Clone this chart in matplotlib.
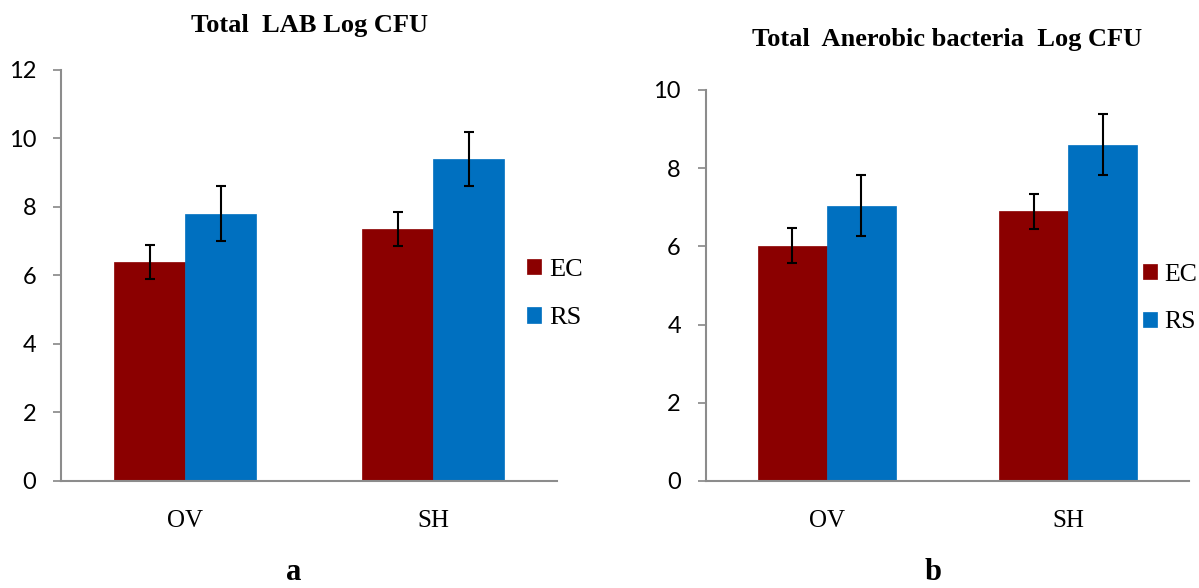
import numpy as np
import matplotlib
matplotlib.use("Agg")
import matplotlib.pyplot as plt

# group labels and series
groups = ["OV", "SH"]
series = ["EC", "RS"]
colors = ["#8B0000", "#0070C0"]

# Total LAB (log CFU)
lab_mean = [[6.4, 7.35], [7.8, 9.4]]
lab_err = [[0.5, 0.5], [0.8, 0.8]]

# Total anaerobic bacteria (log CFU)
ana_mean = [[6.02, 6.9], [7.04, 8.6]]
ana_err = [[0.45, 0.45], [0.78, 0.78]]

serif = "Liberation Serif"
sans = "Lato"


def draw_panel(ax, means, errs, title, ymax, ystep, title_y, leg_anchor, leg_size):
    x = np.arange(len(groups))
    w = 0.286
    for i, name in enumerate(series):
        off = (i - 0.5) * w
        ax.bar(x + off, means[i], w, color=colors[i], label=name,
               edgecolor=colors[i], linewidth=0.5, zorder=2)
        ax.errorbar(x + off, means[i], yerr=errs[i], fmt="none", ecolor="black",
                    elinewidth=1.5, capsize=3.8, capthick=1.5, zorder=3)
    ax.set_xlim(-0.5, len(groups) - 0.5)
    ax.set_ylim(0, ymax)
    ax.set_yticks(np.arange(0, ymax + 0.01, ystep))
    ax.set_xticks(x)
    ax.set_xticklabels(groups, fontfamily=serif, fontsize=18)
    ax.tick_params(axis="x", length=0, pad=21)
    ax.tick_params(axis="y", length=6, width=1.2, color="#868686",
                   labelsize=17, pad=12)
    for lab in ax.get_yticklabels():
        lab.set_fontfamily(sans)
    for s in ["top", "right"]:
        ax.spines[s].set_visible(False)
    for s in ["left", "bottom"]:
        ax.spines[s].set_color("#8c8c8c")
        ax.spines[s].set_linewidth(1.5)
    ax.text(0.5, title_y, title, transform=ax.transAxes, ha="center",
            va="center", fontfamily=serif, fontweight="bold", fontsize=19)
    ax.legend(loc="center left", bbox_to_anchor=leg_anchor, frameon=False,
              prop={"family": serif, "size": leg_size}, handlelength=0.53,
              handleheight=0.53, handletextpad=0.3, labelspacing=1.0,
              borderaxespad=0, borderpad=0)


fig = plt.figure(figsize=(11.99, 5.88), dpi=100)
ax1 = fig.add_axes([0.0509, 0.182, 0.4137, 0.699])
ax2 = fig.add_axes([0.5888, 0.182, 0.4028, 0.665])

draw_panel(ax1, lab_mean, lab_err, "Total  LAB Log CFU", 12, 2, 1.109,
           (0.94, 0.455), 19)
draw_panel(ax2, ana_mean, ana_err, "Total  Anerobic bacteria  Log CFU", 10, 2, 1.128,
           (0.905, 0.467), 18.5)

fig.text(0.245, 0.026, "a", ha="center", va="center", fontfamily=serif,
         fontweight="bold", fontsize=22)
fig.text(0.778, 0.026, "b", ha="center", va="center", fontfamily=serif,
         fontweight="bold", fontsize=22)

fig.savefig("out.png", dpi=100)
